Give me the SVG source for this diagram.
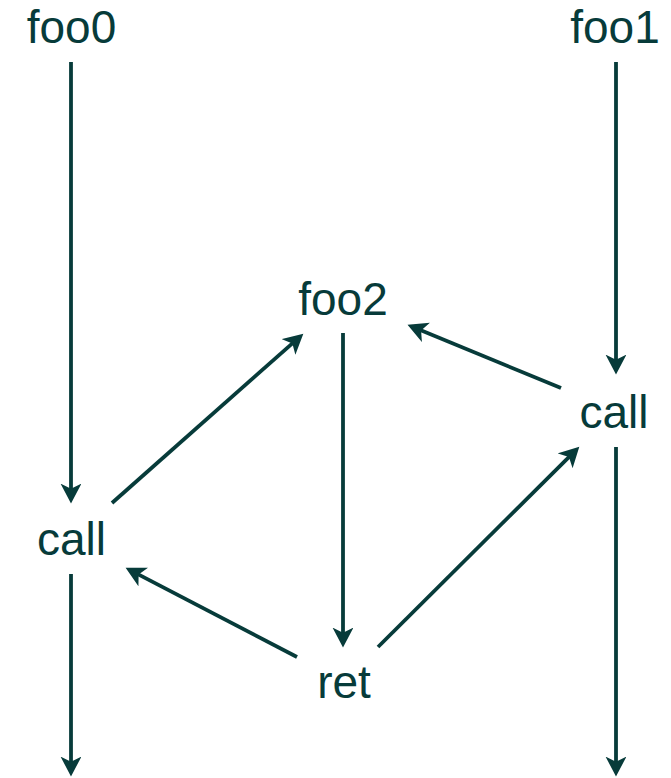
<svg xmlns="http://www.w3.org/2000/svg" width="671" height="778" viewBox="0 0 671 778">
<defs>
<style>
.lbl{font-family:"Liberation Sans",Arial,sans-serif;font-size:46px;fill:#073b3a;text-anchor:middle}
.edge{stroke:#073b3a;stroke-width:3.8;fill:none}
</style>
<marker id="ah" markerUnits="userSpaceOnUse" markerWidth="22" markerHeight="22" viewBox="0 0 21 21" refX="9" refY="10" orient="auto">
<path d="M0,0 L19,10 L0,20 L5,10 Z" fill="#073b3a"/>
</marker>
</defs>
<rect width="671" height="778" fill="#ffffff"/>
<g id="connectors">
<line class="edge" x1="71" y1="62" x2="71" y2="493" marker-end="url(#ah)"/>
<line class="edge" x1="71" y1="574" x2="71" y2="766" marker-end="url(#ah)"/>
<line class="edge" x1="616" y1="62" x2="616" y2="364" marker-end="url(#ah)"/>
<line class="edge" x1="616" y1="447" x2="616" y2="766" marker-end="url(#ah)"/>
<line class="edge" x1="343" y1="333" x2="343" y2="637" marker-end="url(#ah)"/>
<line class="edge" x1="112" y1="503" x2="295.5" y2="340.6" marker-end="url(#ah)"/>
<line class="edge" x1="561" y1="388" x2="417.2" y2="328.8" marker-end="url(#ah)"/>
<line class="edge" x1="297" y1="657" x2="134.9" y2="572.6" marker-end="url(#ah)"/>
<line class="edge" x1="378" y1="647" x2="571.9" y2="454.1" marker-end="url(#ah)"/>
</g>
<g id="foo0"><text class="lbl" x="71.5" y="43">foo0</text></g>
<g id="foo1"><text class="lbl" x="615" y="43">foo1</text></g>
<g id="foo2"><text class="lbl" x="343" y="315">foo2</text></g>
<g id="call0"><text class="lbl" x="71.5" y="555">call</text></g>
<g id="call1"><text class="lbl" x="614" y="428">call</text></g>
<g id="ret"><text class="lbl" x="344" y="698">ret</text></g>
</svg>
